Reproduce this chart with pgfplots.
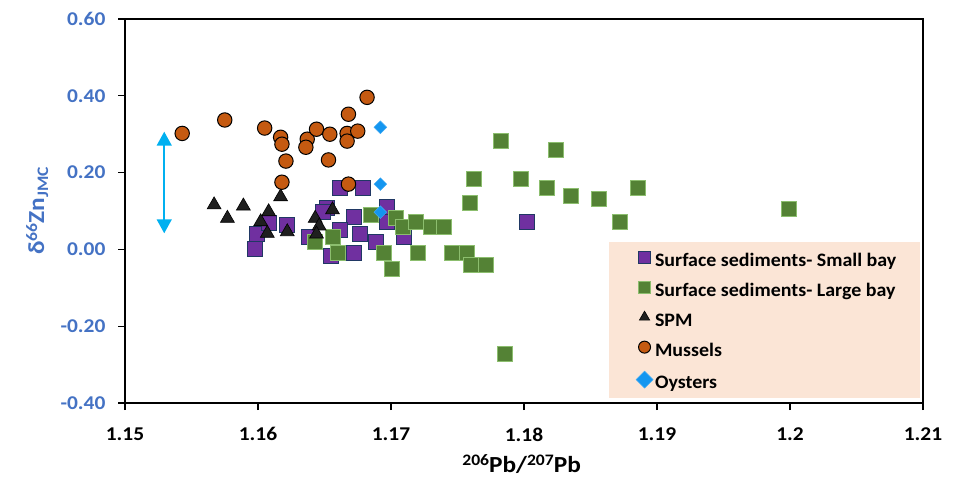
\documentclass[border=0pt]{standalone}
\usepackage{pgfplots}
\pgfplotsset{compat=1.18}
\usepackage{fontspec}
\setmainfont{Carlito}[FakeStretch=1.05]
\newfontfamily\tickfont{Carlito}[FakeStretch=1.1]
\usetikzlibrary{arrows.meta}
\definecolor{sbfill}{RGB}{112,48,160}
\definecolor{sbdraw}{RGB}{32,56,100}
\definecolor{lbfill}{RGB}{84,130,53}
\definecolor{lbdraw}{RGB}{140,190,110}
\definecolor{musfill}{RGB}{197,90,17}
\definecolor{oysfill}{RGB}{20,150,240}
\definecolor{arrcol}{RGB}{0,176,240}
\definecolor{legfill}{RGB}{251,229,214}
\definecolor{ytc}{RGB}{68,114,196}
\newcommand\ff{\fontsize{19}{22}\selectfont\bfseries}
\newcommand\tf{\tickfont\fontsize{19.5}{22}\selectfont\bfseries}
\newcommand\lf{\tickfont\fontsize{23}{26}\selectfont\bfseries}
\newcommand\sups[1]{\raisebox{7pt}{\fontsize{16}{16}\selectfont #1}}
\newcommand\subs[1]{\raisebox{-4pt}{\fontsize{16}{16}\selectfont #1}}
\begin{document}
\begin{tikzpicture}[x=1pt,y=1pt]
\path[use as bounding box] (0,0) rectangle (963,480);
\begin{axis}[
  at={(125pt,77pt)}, anchor=south west,
  width=798pt, height=384pt, scale only axis,
  xmin=1.15, xmax=1.21, ymin=-0.4, ymax=0.6,
  xtick={1.15,1.16,1.17,1.18,1.19,1.2,1.21},
  ytick={-0.4,-0.2,0,0.2,0.4,0.6},
  xtick pos=bottom, ytick pos=left,
  tick align=outside, major tick length=7pt,
  tick style={black, line width=1.2pt},
  axis line style={line width=1.2pt},
  /pgf/number format/assume math mode=true,
  xticklabel style={font=\tf, yshift=-14pt, /pgf/number format/.cd, fixed, precision=2},
  yticklabel style={font=\tf, text=ytc, xshift=-9pt, /pgf/number format/.cd, fixed, fixed zerofill, precision=2},
  xlabel={\sups{206}Pb/\sups{207}Pb},
  ylabel={δ\sups{66}Zn\subs{JMC}},
  xlabel style={font=\lf, at={(axis description cs:0.497,-0.16)}, anchor=center},
  ylabel style={font=\lf, text=ytc, at={(axis description cs:-0.11,0.5)}, anchor=center, rotate=0},
  legend style={at={(axis cs:1.18841,-0.004)}, anchor=north west, draw=none, fill=none,
    font=\ff, row sep=11pt, column sep=2pt, inner sep=0pt,
    nodes={inner sep=0pt, text height=13pt, text depth=4pt, anchor=west}},
  legend cell align=left,
  legend image code/.code={\draw[#1, mark size=6pt] plot coordinates {(0pt,4.5pt)};},
]
\fill[legfill] (axis cs:1.18638,0.0193) rectangle (axis cs:1.20975,-0.387);

\addplot[only marks, mark=square*, mark size=7.5pt, mark options={fill=sbfill, draw=sbdraw, line width=1pt}] coordinates {
(1.1599,0.040) (1.1598,0.001) (1.1608,0.070) (1.1622,0.063) (1.1638,0.033)
(1.1655,-0.017) (1.1662,0.159) (1.1679,0.159) (1.1652,0.107) (1.1649,0.098)
(1.1672,0.084) (1.1662,0.051) (1.1677,0.040) (1.1672,-0.010) (1.1689,0.020)
(1.1697,0.111) (1.1697,0.072) (1.1710,0.033) (1.1802,0.071)
};
\addlegendentry{Surface sediments- Small bay}

\addplot[only marks, mark=square*, mark size=7.5pt, mark options={fill=lbfill, draw=lbdraw, line width=0.8pt}] coordinates {
(1.1656,0.032) (1.1643,0.020) (1.1660,-0.010) (1.1685,0.090) (1.1704,0.083)
(1.1709,0.059) (1.1719,0.072) (1.1730,0.059) (1.1740,0.059) (1.1695,-0.010)
(1.1701,-0.051) (1.1720,-0.010) (1.1746,-0.010) (1.1757,-0.010) (1.1760,-0.040)
(1.1771,-0.040) (1.1762,0.183) (1.1759,0.122) (1.1798,0.183) (1.1817,0.159)
(1.1783,0.283) (1.1824,0.259) (1.1835,0.139) (1.1856,0.132) (1.1886,0.159)
(1.1872,0.071) (1.1786,-0.272) (1.1999,0.106)
};
\addlegendentry{Surface sediments- Large bay}

\addplot[only marks, mark=triangle*, mark size=8pt, mark options={fill=black!88, draw=black, line width=0.6pt}] coordinates {
(1.1567,0.116) (1.1577,0.081) (1.1589,0.113) (1.1608,0.098) (1.1602,0.072)
(1.1607,0.042) (1.1617,0.137) (1.1622,0.046) (1.1643,0.081) (1.1646,0.061)
(1.1644,0.040) (1.1656,0.103)
};
\addlegendentry{SPM}

\addplot[only marks, mark=*, mark size=7.2pt, mark options={fill=musfill, draw=black, line width=1pt}] coordinates {
(1.1543,0.302) (1.1575,0.337) (1.1605,0.316) (1.1617,0.292) (1.1618,0.274)
(1.1621,0.230) (1.1618,0.175) (1.1637,0.287) (1.1636,0.266) (1.1644,0.313)
(1.1654,0.300) (1.1653,0.233) (1.1668,0.352) (1.1667,0.302) (1.1667,0.282)
(1.1675,0.308) (1.1682,0.396) (1.1668,0.170)
};
\addlegendentry{Mussels}

\addplot[only marks, mark=square*, mark size=4.5pt, mark options={rotate=45, fill=oysfill, draw=oysfill!80!white, line width=0.5pt}] coordinates {
(1.1692,0.318) (1.1692,0.170) (1.1692,0.097)
};
\addlegendentry{Oysters}

\draw[arrcol, line width=1.5pt, {Triangle[width=15pt,length=14pt]}-{Triangle[width=15pt,length=14pt]}] (axis cs:1.15295,0.3065) -- (axis cs:1.15295,0.042);
\end{axis}
\end{tikzpicture}
\end{document}
